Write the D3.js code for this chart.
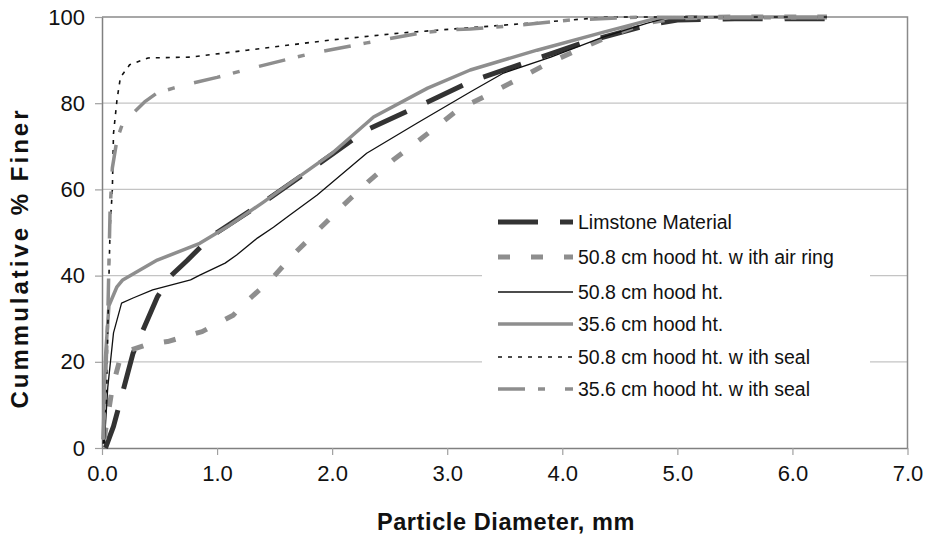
<!DOCTYPE html>
<html>
<head>
<meta charset="utf-8">
<script src="https://cdn.jsdelivr.net/npm/d3@7"></script>
<style>
  html, body { margin: 0; padding: 0; background: #fff; }
  svg { display: block; font-family: "Liberation Sans", Arial, sans-serif; }
</style>
</head>
<body>
<svg id="chart" width="929" height="537"></svg>
<script>
// ---------- data ----------
const xTicks = [0, 1, 2, 3, 4, 5, 6, 7];
const yTicks = [0, 20, 40, 60, 80, 100];
const seriesNames = [
  "Limstone Material",
  "50.8 cm hood ht. w ith air ring",
  "50.8 cm hood ht.",
  "35.6 cm hood ht.",
  "50.8 cm hood ht. w ith seal",
  "35.6 cm hood ht. w ith seal"
];
const limestone = [[0.03,0],[0.1,5],[0.27,22],[0.48,35],[0.6,40],[0.74,43.5],[0.9,47.8],[1.0,50],[1.43,57.5],[1.87,65.7],[2.3,73.8],[2.83,80.3],[3.2,85],[3.7,89.6],[4.2,94.2],[4.74,98.1],[5.0,99.3],[5.5,99.6],[6.3,99.6]];
const airRing = [[0.02,2],[0.03,4],[0.09,14],[0.17,22],[0.39,24],[0.57,24.7],[0.87,27],[1.14,30.8],[1.24,33.6],[1.48,39.4],[1.66,44.8],[1.88,50.6],[2.1,56.4],[2.31,61.7],[2.53,66.8],[2.78,71.9],[3.09,78.4],[3.35,81.9],[3.6,85.4],[3.88,89.3],[4.13,92.3],[4.43,95.8],[4.71,98.6],[5.0,99.8],[5.5,100],[6.3,100]];
const hood508 = [[0.02,1],[0.05,14],[0.1,26.7],[0.17,33.6],[0.27,34.8],[0.44,36.7],[0.77,39],[0.85,40.1],[1.07,42.9],[1.17,44.8],[1.35,48.7],[1.49,51.2],[1.63,54],[1.87,58.7],[2.3,68.4],[2.74,75.4],[3.2,82.6],[3.49,87],[3.9,90.7],[4.36,95.4],[4.74,98.6],[4.91,99.8],[5.5,100],[6.3,100]];
const hood356 = [[0.01,2],[0.03,21],[0.06,33],[0.13,37.4],[0.18,39],[0.48,43.6],[0.74,46.3],[0.85,47.5],[1.11,51.7],[1.4,57],[2.0,68.4],[2.36,76.8],[2.83,83.5],[3.2,87.7],[3.78,92.3],[4.36,96.5],[4.83,99.8],[5.5,100],[6.3,100]];
const seal508 = [[0.01,1],[0.04,11],[0.05,27],[0.07,51],[0.09,60],[0.1,73],[0.13,80.7],[0.16,86],[0.24,88.9],[0.4,90.5],[0.77,90.7],[1.05,91.6],[1.26,92.3],[2.0,94.7],[2.6,96.3],[3.29,97.7],[4.07,99.3],[4.4,100],[6.3,100]];
const seal356 = [[0.01,2],[0.03,15],[0.05,30],[0.07,55],[0.09,65],[0.13,71.5],[0.18,75.4],[0.27,77.7],[0.37,80.3],[0.48,82.4],[0.62,83.5],[0.79,84.7],[1.0,86],[1.17,87.2],[1.31,88.2],[1.83,91.6],[2.3,94],[2.77,96.3],[3.0,97],[3.2,97.2],[3.63,98.1],[4.07,99.3],[4.7,100],[5.5,99.8],[6.3,99.8]];
const seriesData = [limestone, airRing, hood508, hood356, seal508, seal356];

// ---------- styles ----------
const styles = [
  {color: "#333333", width: 5,   dash: "40,22"},
  {color: "#8e8e8e", width: 5,   dash: "12,21"},
  {color: "#111111", width: 1.3, dash: null},
  {color: "#8e8e8e", width: 3.5, dash: null},
  {color: "#111111", width: 1.6, dash: "4,6"},
  {color: "#8e8e8e", width: 3.5, dash: "27,13,7,20"}
];

const svg = d3.select("#chart");
const L = 102, R = 907.5, T = 17, B = 448;
const x = d3.scaleLinear().domain([0, 7]).range([L, R]);
const y = d3.scaleLinear().domain([0, 100]).range([B, T]);

// gridlines
svg.append("g").selectAll("line").data(yTicks.filter(d => d > 0 && d < 100)).join("line")
  .attr("x1", L).attr("x2", R).attr("y1", d => y(d)).attr("y2", d => y(d))
  .attr("stroke", "#c4c4c4").attr("stroke-width", 1.2);

// frame top/right
svg.append("path")
  .attr("d", `M${L},${T}H${R}V${B}`)
  .attr("fill", "none").attr("stroke", "#8a8a8a").attr("stroke-width", 1.5);

// axes
const xAxis = d3.axisBottom(x).tickValues(xTicks).tickFormat(d3.format(".1f")).tickSize(7).tickSizeOuter(0).tickPadding(10);
const gx = svg.append("g").attr("transform", `translate(0,${B})`).call(xAxis);
const yAxis = d3.axisLeft(y).tickValues(yTicks).tickFormat(d3.format("d")).tickSize(7).tickSizeOuter(0).tickPadding(10);
const gy = svg.append("g").attr("transform", `translate(${L},0)`).call(yAxis);
[gx, gy].forEach(g => {
  g.select(".domain").attr("stroke", "#808080").attr("stroke-width", 1.5);
  g.selectAll(".tick line").attr("stroke", "#a0a0a0").attr("stroke-width", 1.2);
  g.selectAll(".tick text").attr("font-size", 22).attr("fill", "#111")
    .attr("font-family", "Liberation Sans, Arial, sans-serif");
});

// legend background (hides gridlines)
svg.append("rect").attr("x", 482).attr("y", 198).attr("width", 388).attr("height", 226).attr("fill", "#fff");

// series
const line = d3.line().x(d => x(d[0])).y(d => y(d[1])).curve(d3.curveLinear);
svg.append("g").selectAll("path").data(seriesData).join("path")
  .attr("d", line)
  .attr("fill", "none")
  .attr("stroke", (d, i) => styles[i].color)
  .attr("stroke-width", (d, i) => styles[i].width)
  .attr("stroke-dasharray", (d, i) => styles[i].dash)
  .attr("stroke-linejoin", "round");

// legend
const lg = svg.append("g");
const legY = [222, 257, 292, 324, 357, 389];
seriesNames.forEach((name, i) => {
  const s = styles[i];
  lg.append("line").attr("x1", 498).attr("x2", 573).attr("y1", legY[i]).attr("y2", legY[i])
    .attr("stroke", s.color).attr("stroke-width", s.width).attr("stroke-dasharray", s.dash);
  lg.append("text").attr("x", 578).attr("y", legY[i]).attr("dy", "0.36em")
    .attr("font-size", 19.5).attr("fill", "#111").text(name);
});

// axis titles
svg.append("text").attr("x", 506).attr("y", 530).attr("text-anchor", "middle")
  .attr("font-size", 23.5).attr("font-weight", "bold").attr("letter-spacing", 0.6).attr("fill", "#111")
  .text("Particle Diameter, mm");
svg.append("text").attr("transform", "translate(28,258) rotate(-90)").attr("text-anchor", "middle")
  .attr("font-size", 24).attr("font-weight", "bold").attr("letter-spacing", 3).attr("fill", "#111")
  .text("Cummulative % Finer");
</script>
</body>
</html>
